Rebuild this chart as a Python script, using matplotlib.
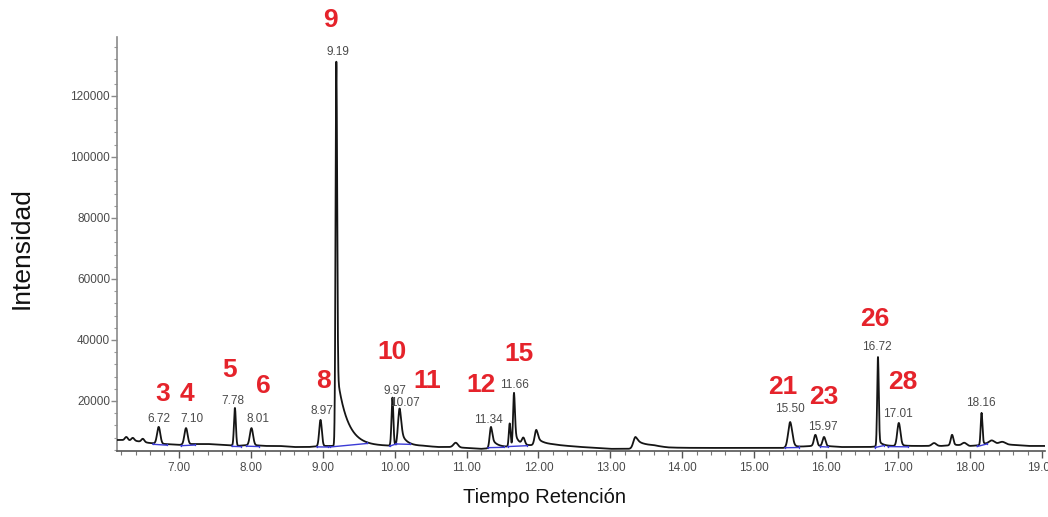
import numpy as np
import matplotlib
matplotlib.use("Agg")
import matplotlib.pyplot as plt
from matplotlib.ticker import MultipleLocator, FixedLocator

plt.rcParams['font.family'] = ['Liberation Sans', 'DejaVu Sans']

# Baseline level of the trace (intensity), sampled every 0.2 min from 6.2 to 19.0
base_t = [6.2, 6.4, 6.6, 6.8, 7.0, 7.2, 7.4, 7.6, 7.8, 8.0, 8.2, 8.4, 8.6, 8.8,
          9.0, 9.2, 9.4, 9.6, 9.8, 10.0, 10.2, 10.4, 10.6, 10.8, 11.0, 11.2, 11.4,
          11.6, 11.8, 12.0, 12.2, 12.4, 12.6, 12.8, 13.0, 13.2, 13.4, 13.6, 13.8,
          14.0, 14.2, 14.4, 14.6, 14.8, 15.0, 15.2, 15.4, 15.6, 15.8, 16.0, 16.2,
          16.4, 16.6, 16.8, 17.0, 17.2, 17.4, 17.6, 17.8, 18.0, 18.2, 18.4, 18.6,
          18.8, 19.0]
base_i = [7200, 6900, 6200, 5900, 5600, 5900, 5900, 5600, 5250, 5600, 5250, 5250,
          4900, 4900, 5250, 5250, 5250, 5250, 5250, 5250, 5250, 5250, 4900, 4900,
          4600, 4300, 4600, 4900, 5250, 5600, 5600, 5250, 4900, 4600, 4300, 4300,
          4300, 4900, 4600, 4600, 4600, 4600, 4600, 4600, 4600, 4600, 4600, 4900,
          5250, 5250, 4900, 4900, 4900, 5250, 5250, 5250, 5250, 5250, 5600, 5250,
          5600, 5900, 5600, 5250, 5250]

# Peaks: retention time (min), apex intensity, width (min), tailing share, tail decay (min)
peak_rt = [6.27, 6.36, 6.50, 6.72, 7.10, 7.78, 8.01, 8.97, 9.19, 9.97, 10.07,
           10.85, 11.34, 11.60, 11.66, 11.79, 11.97, 13.35, 15.50, 15.85, 15.97,
           16.72, 17.01, 17.50, 17.75, 17.92, 18.16, 18.30, 18.45]
peak_top = [8200, 7900, 7600, 11500, 11100, 17700, 11100, 13800, 131200, 21000,
            17500, 6300, 11500, 12500, 22600, 7400, 10500, 8200, 13100, 8900, 8200,
            34400, 12800, 6200, 8900, 6300, 16100, 7000, 6600]
peak_width = [0.02, 0.02, 0.02, 0.022, 0.022, 0.013, 0.022, 0.018, 0.011, 0.013,
              0.022, 0.03, 0.018, 0.012, 0.013, 0.02, 0.022, 0.03, 0.028, 0.02,
              0.02, 0.011, 0.022, 0.03, 0.018, 0.03, 0.012, 0.04, 0.04]
peak_tail = [0, 0, 0, 0, 0, 0, 0, 0, 0.2, 0, 0.45, 0, 0.5, 0, 0.3, 0, 0.5, 0.8,
             0.2, 0, 0, 0.08, 0.1, 0, 0, 0, 0.1, 0, 0]
peak_tau = [0.05, 0.05, 0.05, 0.05, 0.05, 0.05, 0.05, 0.05, 0.14, 0.05, 0.08,
            0.05, 0.08, 0.05, 0.06, 0.05, 0.1, 0.16, 0.05, 0.05, 0.05, 0.05, 0.05,
            0.05, 0.05, 0.05, 0.05, 0.05, 0.05]

# Integrated peaks: label, start and end of the integration baseline (min)
rt_labels = ['6.72', '7.10', '7.78', '8.01', '8.97', '9.19', '9.97', '10.07',
             '11.34', '11.66', '15.50', '15.97', '16.72', '17.01', '18.16']
int_start = [6.64, 7.03, 7.74, 7.94, 8.92, 9.10, 9.93, 10.02, 11.30, 11.57,
             15.43, 15.92, 16.68, 16.86, 18.10]
int_end = [6.84, 7.22, 7.87, 8.12, 9.08, 9.62, 10.02, 10.22, 11.52, 11.84,
           15.62, 16.03, 16.80, 17.14, 18.24]

# Compound numbers
compounds = ['3', '4', '5', '6', '8', '9', '10', '11', '12', '15', '21', '23',
             '26', '28']

x_ticks = [7, 8, 9, 10, 11, 12, 13, 14, 15, 16, 17, 18, 19]
y_ticks = [20000, 40000, 60000, 80000, 100000, 120000]

# Label anchor positions (data coordinates)
rt_label_pos = [(6.725, 14100), (7.185, 14100), (7.756, 20000), (8.10, 14100),
                (8.995, 16700), (9.218, 134500), (9.998, 23300), (10.137, 19400),
                (11.307, 13800), (11.67, 25300), (15.50, 17400), (15.96, 11500),
                (16.71, 37700), (17.00, 15700), (18.146, 19400)]
cmp_label_pos = [(6.78, 22300), (7.115, 22300), (7.71, 30200), (8.17, 24900),
                 (9.01, 26600), (9.11, 145000), (9.97, 36100), (10.46, 26600),
                 (11.20, 25300), (11.725, 35400), (15.40, 24600), (15.97, 21300),
                 (16.67, 46900), (17.07, 26200)]

t = np.arange(6.14, 19.05, 0.002)
baseline = np.interp(t, base_t, base_i)


def peak_shape(tt, rt, w, tail, tau):
    gauss = np.exp(-0.5 * ((tt - rt) / w) ** 2)
    d = np.clip(tt - rt, 0, None)
    expo = np.where(tt < rt, gauss, np.exp(-d / tau))
    return (1 - tail) * gauss + tail * expo


signal = baseline.copy()
for rt, top, w, tl, tau in zip(peak_rt, peak_top, peak_width, peak_tail, peak_tau):
    h = top - np.interp(rt, base_t, base_i)
    signal += h * peak_shape(t, rt, w, tl, tau)

fig = plt.figure(figsize=(10.48, 5.17), dpi=100)
ax = fig.add_axes([0.1116, 0.1277, 0.8854, 0.8007])

ax.plot(t, signal, color='#151515', lw=1.3, zorder=3)

# Integration baselines and drop lines
blue = '#3b3bd6'
for s, e in zip(int_start, int_end):
    bs = np.interp(s, t, signal) - 350
    be = np.interp(e, t, signal) - 350
    ax.plot([s, e], [bs, be], color=blue, lw=1.0, zorder=4)
    ax.plot([s, s], [bs, np.interp(s, t, signal)], color=blue, lw=0.9, zorder=4)
    ax.plot([e, e], [be, np.interp(e, t, signal)], color=blue, lw=0.9, zorder=4)

for txt, (x, y) in zip(rt_labels, rt_label_pos):
    ax.text(x, y, txt, ha='center', va='center', fontsize=8.5, color='#4a4a4a',
            zorder=5)

for txt, (x, y) in zip(compounds, cmp_label_pos):
    ax.text(x, y, txt, ha='center', va='center', fontsize=19, fontweight='bold',
            color='#e5232b', zorder=6, clip_on=False)

ax.set_xlim(6.14, 19.04)
ax.set_ylim(3600, 139300)

ax.xaxis.set_major_locator(FixedLocator(x_ticks))
ax.set_xticklabels([f'{v:.2f}' for v in x_ticks])
ax.xaxis.set_minor_locator(MultipleLocator(0.2))
ax.yaxis.set_major_locator(FixedLocator(y_ticks))
ax.set_yticklabels([str(v) for v in y_ticks])
ax.yaxis.set_minor_locator(MultipleLocator(4000))

for side in ('top', 'right'):
    ax.spines[side].set_visible(False)
ax.spines['left'].set_color('#8a8a8a')
ax.spines['bottom'].set_color('#555555')
ax.spines['left'].set_linewidth(1.2)
ax.spines['bottom'].set_linewidth(1.2)

ax.tick_params(axis='x', which='major', length=5, width=1, color='#555555',
               labelsize=8.5, labelcolor='#4a4a4a', pad=3)
ax.tick_params(axis='x', which='minor', length=3, width=0.8, color='#777777')
ax.tick_params(axis='y', which='major', length=4, width=1, color='#8a8a8a',
               labelsize=8.5, labelcolor='#4a4a4a', pad=1)
ax.tick_params(axis='y', which='minor', length=2, width=0.8, color='#9a9a9a')

fig.text(0.021, 0.52, 'Intensidad', rotation=90, ha='center', va='center',
         fontsize=19, color='#111111')
fig.text(0.52, 0.038, 'Tiempo Retención', ha='center', va='center',
         fontsize=14.5, color='#111111')

fig.savefig('out.png', dpi=100)
